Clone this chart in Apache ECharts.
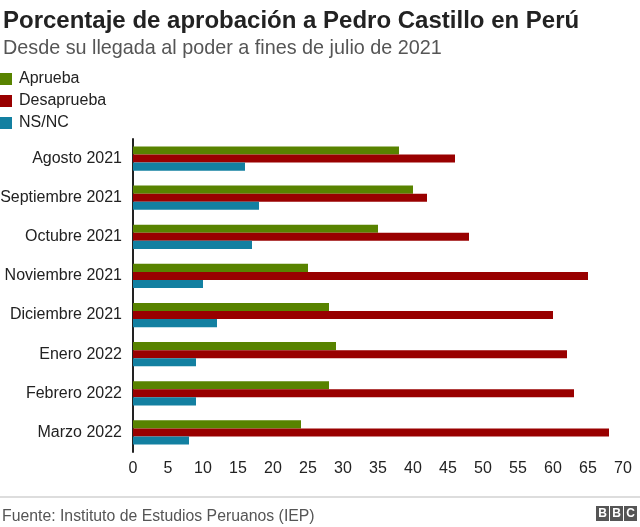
<!DOCTYPE html>
<html>
<head>
<meta charset="utf-8">
<script src="https://cdn.jsdelivr.net/npm/echarts@6/dist/echarts.min.js"></script>
<style>
html,body{margin:0;padding:0;background:#fff;}
#chart{width:640px;height:527px;}
</style>
</head>
<body>
<div id="chart"></div>
<script>
const categories = ['Agosto 2021','Septiembre 2021','Octubre 2021','Noviembre 2021','Diciembre 2021','Enero 2022','Febrero 2022','Marzo 2022'];
const aprueba = [38, 40, 35, 25, 28, 29, 28, 24];
const desaprueba = [46, 42, 48, 65, 60, 62, 63, 68];
const nsnc = [16, 18, 17, 10, 12, 9, 9, 8];
const xTicks = [0,5,10,15,20,25,30,35,40,45,50,55,60,65,70];

const font = 'Liberation Sans, Arial, Helvetica, sans-serif';
const chart = echarts.init(document.getElementById('chart'), null, {renderer:'canvas'});
chart.setOption({
  backgroundColor:'#fff',
  animation:false,
  textStyle:{fontFamily:font},
  title:[
    {text:'Porcentaje de aprobación a Pedro Castillo en Perú', left:-2, top:4,
     textStyle:{fontSize:24, fontWeight:'bold', color:'#222', fontFamily:font}},
    {text:'Desde su llegada al poder a fines de julio de 2021', left:-2, top:34,
     textStyle:{fontSize:19.8, fontWeight:'normal', color:'#555', fontFamily:font}},
    {text:'Fuente: Instituto de Estudios Peruanos (IEP)', left:-3, top:504,
     textStyle:{fontSize:15.8, fontWeight:'normal', color:'#555', fontFamily:font}}
  ],
  legend:{
    orient:'vertical', left:0, top:71, itemWidth:12, itemHeight:12, itemGap:6,
    icon:'rect', padding:0,
    textStyle:{fontSize:16, color:'#222', fontFamily:font, padding:[0,0,0,2]},
    data:['Aprueba','Desaprueba','NS/NC']
  },
  grid:{left:133, right:17, top:139, bottom:75, containLabel:false, outerBoundsMode:'none'},
  xAxis:{
    type:'value', min:0, max:70, interval:5,
    axisLine:{show:false}, axisTick:{show:false}, splitLine:{show:false},
    axisLabel:{fontSize:16, color:'#222', margin:9, fontFamily:font,
      formatter:function(v){return xTicks.indexOf(v)>=0 ? String(v) : '';}}
  },
  yAxis:{
    type:'category', data:categories, inverse:true,
    axisLine:{show:true, lineStyle:{color:'#222', width:2}},
    axisTick:{show:false},
    axisLabel:{fontSize:16, color:'#222', margin:11, fontFamily:font}
  },
  series:[
    {name:'Aprueba', type:'bar', data:aprueba, barGap:'0%', barCategoryGap:'38%',
     itemStyle:{color:'#588300'}},
    {name:'Desaprueba', type:'bar', data:desaprueba, barGap:'0%', barCategoryGap:'38%',
     itemStyle:{color:'#990000'}},
    {name:'NS/NC', type:'bar', data:nsnc, barGap:'0%', barCategoryGap:'38%',
     itemStyle:{color:'#1380A1'}}
  ],
  graphic:[
    {type:'line', shape:{x1:0, y1:497, x2:640, y2:497}, style:{stroke:'#bbb', lineWidth:1}},
    {type:'group', left:596, top:506, children:[
      {type:'rect', shape:{x:0, y:0, width:13, height:15}, style:{fill:'#555'}},
      {type:'text', style:{x:6.5, y:7.5, text:'B', fill:'#fff', font:'bold 12px '+font, align:'center', verticalAlign:'middle'}},
      {type:'rect', shape:{x:14, y:0, width:13, height:15}, style:{fill:'#555'}},
      {type:'text', style:{x:20.5, y:7.5, text:'B', fill:'#fff', font:'bold 12px '+font, align:'center', verticalAlign:'middle'}},
      {type:'rect', shape:{x:28, y:0, width:13, height:15}, style:{fill:'#555'}},
      {type:'text', style:{x:34.5, y:7.5, text:'C', fill:'#fff', font:'bold 12px '+font, align:'center', verticalAlign:'middle'}}
    ]}
  ]
});
</script>
</body>
</html>
